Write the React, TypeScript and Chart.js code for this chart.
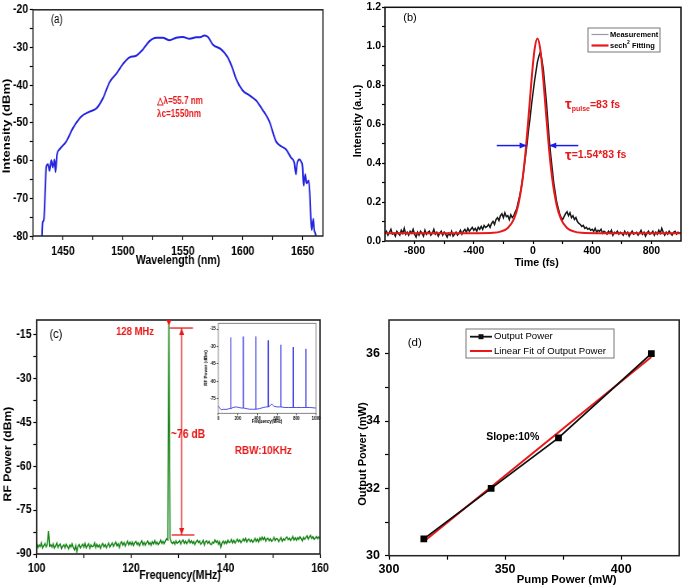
import React, { useEffect, useRef } from "react";
import { Chart, registerables } from "chart.js";
Chart.register(...registerables);

const FONT = "'Liberation Sans', Arial, Helvetica, sans-serif";

// ---------------- (a) optical spectrum ----------------
const specWavelength = [1432.3, 1432.5, 1433.2, 1434, 1435.3, 1436, 1437.5, 1438.8, 1440.3, 1441.5, 1443, 1443.8, 1445, 1447.2, 1452.8, 1458.3, 1465.3, 1472.2, 1477.8, 1483.3, 1488.9, 1494.4, 1500, 1505.6, 1511, 1516.7, 1522.2, 1527.8, 1533.3, 1538.9, 1544.4, 1550, 1555.6, 1561, 1565.3, 1568, 1571, 1575, 1582, 1587.5, 1591.7, 1594.4, 1600, 1605.6, 1611, 1616.7, 1622.2, 1627.8, 1632, 1636, 1640.3, 1643, 1644.4, 1645.3, 1647.2, 1648.6, 1650, 1650.8, 1652.2, 1653.3, 1655, 1656, 1657.5, 1658.9, 1659.7, 1661, 1661.5];
const specIntensity = [-83, -80, -76.2, -75.8, -67, -61.8, -61, -62.7, -59.9, -61.8, -59.7, -63, -58.4, -57, -54.9, -51.4, -48.3, -47, -46.2, -43.5, -39.2, -37, -34.4, -32.6, -32.2, -30.5, -28.3, -27.4, -27.4, -28.1, -27.4, -27.2, -27.7, -27.3, -27.2, -26.8, -27.2, -29.2, -30.5, -32.6, -35.7, -38.3, -41.4, -42.7, -44, -46.6, -49.6, -54.9, -56.2, -57, -59.2, -60.5, -63.6, -61, -59.7, -60.2, -61.8, -66.6, -63.6, -66, -65.3, -68.8, -78.4, -75.4, -78.4, -80, -83];
const aXMajor = [1450, 1500, 1550, 1600, 1650];
const aXMinor = [1425, 1475, 1525, 1575, 1625];
const aYMajor = [-80, -70, -60, -50, -40, -30, -20];
const aYMinor = [-75, -65, -55, -45, -35, -25];

// ---------------- (b) autocorrelation ----------------
const timeStart = -1000;
const timeStep = 10;
const measIntensity = [
  0.04, 0.05, 0.03, 0.045, 0.06, 0.035, 0.04, 0.025, 0.05, 0.04,
  0.03, 0.055, 0.04, 0.065, 0.035, 0.045, 0.03, 0.05, 0.04, 0.06,
  0.035, 0.02, 0.045, 0.03, 0.05, 0.04, 0.025, 0.055, 0.035, 0.045,
  0.05, 0.03, 0.04, 0.06, 0.035, 0.045, 0.025, 0.04, 0.05, 0.03,
  0.045, 0.035, 0.02, 0.04, 0.03, 0.05, 0.025, 0.035, 0.045, 0.03,
  0.04, 0.055, 0.035, 0.05, 0.06, 0.045, 0.065, 0.05, 0.06, 0.07,
  0.055, 0.065, 0.05, 0.07, 0.06, 0.075, 0.06, 0.08, 0.07, 0.075,
  0.085, 0.07, 0.09, 0.1, 0.085, 0.11, 0.12, 0.105, 0.13, 0.14,
  0.12, 0.145, 0.125, 0.13, 0.11, 0.135, 0.12, 0.13, 0.15, 0.165,
  0.2, 0.23, 0.27, 0.32, 0.38, 0.44, 0.5, 0.57, 0.63, 0.7,
  0.76, 0.82, 0.87, 0.92, 0.95, 0.97, 0.93, 0.88, 0.8, 0.72,
  0.62, 0.52, 0.44, 0.37, 0.3, 0.25, 0.2, 0.17, 0.14, 0.12,
  0.11, 0.125, 0.14, 0.15, 0.13, 0.145, 0.12, 0.13, 0.11, 0.12,
  0.1, 0.09, 0.085, 0.075, 0.08, 0.065, 0.07, 0.06, 0.065, 0.055,
  0.06, 0.05, 0.065, 0.045, 0.055, 0.05, 0.06, 0.04, 0.05, 0.045,
  0.035, 0.05, 0.04, 0.055, 0.03, 0.045, 0.04, 0.05, 0.035, 0.045,
  0.04, 0.03, 0.05, 0.035, 0.045, 0.025, 0.04, 0.05, 0.035, 0.04,
  0.045, 0.03, 0.04, 0.055, 0.035, 0.045, 0.025, 0.04, 0.05, 0.035,
  0.04, 0.05, 0.03, 0.045, 0.035, 0.055, 0.04, 0.065, 0.045, 0.03,
  0.045, 0.035, 0.05, 0.04, 0.03, 0.045, 0.05, 0.035, 0.045, 0.04,
  0.04,
];
const fitTime = [-1000, -600, -370, -270, -220, -170, -130, -100, -70, -50, -30, -10, 10, 30, 50, 70, 90, 110, 130, 160, 190, 230, 280, 330, 430, 700, 1000];
const fitIntensity = [0.04, 0.04, 0.04, 0.042, 0.048, 0.067, 0.111, 0.184, 0.32, 0.46, 0.637, 0.826, 0.98, 1.04, 0.98, 0.826, 0.637, 0.46, 0.32, 0.184, 0.111, 0.067, 0.048, 0.042, 0.04, 0.04, 0.04];
const bXMajor = [-800, -400, 0, 400, 800];
const bXMinor = [-600, -200, 200, 600];
const bYMajor = [0, 0.2, 0.4, 0.6, 0.8, 1.0, 1.2];
const bYMinor = [0.1, 0.3, 0.5, 0.7, 0.9, 1.1];

// ---------------- (c) RF spectrum ----------------
const rfStart = 100;
const rfStep = 0.25;
const rfPower = [
  -86.5, -87.8, -86.9, -87.5,
  -86.2, -87.9, -87.1, -86.4,
  -87.6, -86.8, -82.2, -87.3,
  -86.9, -87.7, -86.5, -88.0,
  -87.2, -86.3, -87.8, -87.0,
  -86.6, -88.1, -87.3, -86.8,
  -87.9, -86.7, -87.4, -88.2,
  -86.9, -87.6, -86.5, -87.8,
  -88.6, -87.1, -89.3, -87.4,
  -86.8, -87.9, -87.2, -86.6,
  -87.7, -86.4, -87.9, -87.1,
  -86.5, -88.0, -86.9, -87.5,
  -87.3, -86.2, -87.8, -86.7,
  -87.6, -86.9, -88.1, -87.0,
  -86.4, -87.5, -86.8, -87.9,
  -87.1, -86.3, -87.6, -86.9,
  -86.2, -87.4, -86.6, -85.9,
  -87.2, -86.5, -87.8, -86.3,
  -85.8, -86.9, -86.1, -87.3,
  -86.4, -85.6, -86.8, -86.0,
  -86.9, -85.9, -87.1, -86.2,
  -85.7, -86.8, -86.1, -87.2,
  -86.3, -85.5, -86.9, -86.0,
  -87.0, -86.2, -85.6, -86.7,
  -86.1, -87.0, -85.8, -86.5,
  -85.4, -86.6, -85.9, -86.8,
  -86.2, -85.3, -86.4, -85.7,
  -86.5, -85.6, -84.8, -85.2,
  -8.0, -84.6, -85.9, -86.4,
  -85.8, -86.7, -85.5, -86.3,
  -86.0, -85.4, -86.6, -85.7,
  -85.2, -86.3, -85.6, -86.5,
  -85.9, -85.1, -86.2, -85.5,
  -86.4, -85.7, -86.8, -85.9,
  -85.3, -86.1, -85.6, -86.7,
  -86.2, -85.4, -86.9, -85.8,
  -85.5, -86.4, -85.7, -86.6,
  -86.8, -85.9, -86.3, -85.2,
  -86.0, -85.5, -86.7, -85.8,
  -87.6, -86.2, -85.6, -86.5,
  -85.7, -86.4, -85.3, -86.1,
  -85.9, -85.0, -86.2, -85.4,
  -86.3, -85.6, -84.9, -85.8,
  -85.2, -86.1, -85.5, -84.8,
  -85.6, -84.7, -85.9, -85.1,
  -84.9, -85.8, -85.2, -86.0,
  -85.4, -84.6, -85.7, -84.9,
  -85.8, -84.5, -85.3, -84.2,
  -85.1, -84.4, -85.6, -84.8,
  -84.6, -85.5, -84.9, -85.7,
  -85.2, -84.3, -85.4, -84.7,
  -84.9, -85.8, -85.1, -84.4,
  -85.6, -84.8, -85.3, -84.5,
  -84.2, -85.1, -84.6, -85.4,
  -84.8, -84.0, -85.2, -84.5,
  -85.3, -84.4, -85.0, -84.1,
  -84.7, -85.5, -84.3, -85.0,
  -84.4, -83.8, -84.9, -84.2,
  -83.6, -84.7, -84.1, -85.0,
  -84.5, -84.0, -84.8, -84.2,
  -84.6,
];
const cXMajor = [100, 120, 140, 160];
const cXMinor = [110, 130, 150];
const cYMajor = [-90, -75, -60, -45, -30, -15];
const cYMinor = [-82.5, -67.5, -52.5, -37.5, -22.5];
// inset: wide-span RF spectrum
const insetFreq = [0, 15, 30, 50, 80, 110, 126, 128, 130, 150, 180, 210, 240, 254, 256, 258, 290, 320, 350, 382, 384, 386, 420, 460, 490, 510, 512, 514, 530, 545, 555, 570, 600, 638, 640, 642, 680, 720, 766, 768, 770, 800, 850, 894, 896, 898, 940, 1000];
const insetPower = [-81, -83, -84.5, -84, -84.2, -83.5, -83.5, -22.2, -83.5, -82.5, -82, -82.5, -83, -83, -21.4, -83, -83.5, -84, -84, -84, -21.4, -84, -83.5, -82.5, -82, -82, -24.8, -82, -81, -79.5, -80, -81.5, -82, -82, -28.5, -82, -82.5, -82.5, -82.5, -30.5, -82.5, -82.5, -82.5, -82.5, -32, -82.5, -82.5, -83];
const insetXMajor = [0, 200, 400, 600, 800, 1000];
const insetYMajor = [-75, -60, -45, -30, -15];

// ---------------- (d) output power ----------------
const pumpPower = [315, 344, 373, 413];
const outputPower = [30.5, 32.0, 33.5, 36.0];
const fitPump = [315, 413];
const fitOutput = [30.42, 35.9];
const dXMajor = [300, 350, 400];
const dXMinor = [325, 375];
const dYMajor = [30, 32, 34, 36];
const dYMinor = [31, 33, 35];

// ---------------- helpers ----------------
const RED = "#e8191b";
const f = (size: number, bold = true) => `${bold ? "bold " : ""}${size}px ${FONT}`;

type Geo = { left: number; top: number; sx: number; yW: number; xH: number; padTop: number; padRight: number };
type Run = { t: string; font: string; color?: string; dy?: number };
type TextSpec = { x: number; y: number; runs: Run[]; align?: "left" | "center"; rot?: boolean };
type SegSpec = { p: [number, number, number, number]; color: string; width: number; heads?: [boolean, boolean] };
type LegendSpec = {
  box: [number, number, number, number];
  items: { y: number; x1: number; x2: number; color: string; width: number; marker?: boolean; tx: number; runs: Run[] }[];
};
type DecorSpec = { frame?: { color: string; width: number }; texts?: TextSpec[]; segs?: SegSpec[]; tris?: { x: number; y: number; color: string }[]; legend?: LegendSpec };

function drawRuns(ctx: CanvasRenderingContext2D, runs: Run[], x: number, y: number, align: string) {
  let total = 0;
  for (const r of runs) {
    ctx.font = r.font;
    total += ctx.measureText(r.t).width;
  }
  let cx = align === "center" ? x - total / 2 : x;
  ctx.textBaseline = "middle";
  ctx.textAlign = "left";
  for (const r of runs) {
    ctx.font = r.font;
    ctx.fillStyle = r.color || "#000";
    ctx.fillText(r.t, cx, y + (r.dy || 0));
    cx += ctx.measureText(r.t).width;
  }
}

function drawArrowLine(ctx: CanvasRenderingContext2D, x1: number, y1: number, x2: number, y2: number, color: string, width: number, heads: [boolean, boolean]) {
  ctx.save();
  ctx.strokeStyle = color;
  ctx.fillStyle = color;
  ctx.lineWidth = width;
  ctx.beginPath();
  ctx.moveTo(x1, y1);
  ctx.lineTo(x2, y2);
  ctx.stroke();
  const hl = 7, hw = 3;
  const head = (x: number, y: number, a: number) => {
    ctx.beginPath();
    ctx.moveTo(x, y);
    ctx.lineTo(x - hl * Math.cos(a) + hw * Math.sin(a), y - hl * Math.sin(a) - hw * Math.cos(a));
    ctx.lineTo(x - hl * Math.cos(a) - hw * Math.sin(a), y - hl * Math.sin(a) + hw * Math.cos(a));
    ctx.closePath();
    ctx.fill();
  };
  const ang = Math.atan2(y2 - y1, x2 - x1);
  if (heads[1]) head(x2, y2, ang);
  if (heads[0]) head(x1, y1, ang + Math.PI);
  ctx.restore();
}

function decorPlugin(geo: Geo, spec: DecorSpec) {
  const X = (px: number) => (px - geo.left) / geo.sx;
  const Y = (py: number) => py - geo.top;
  return {
    id: "decor",
    afterDraw(chart: any) {
      const ctx: CanvasRenderingContext2D = chart.ctx;
      const a = chart.chartArea;
      const xs = chart.scales.x;
      const ys = chart.scales.y;
      ctx.save();
      if (spec.frame) {
        ctx.strokeStyle = spec.frame.color;
        ctx.lineWidth = spec.frame.width;
        ctx.strokeRect(a.left, a.top, a.right - a.left, a.bottom - a.top);
      }
      for (const s of spec.segs || []) {
        drawArrowLine(ctx, xs.getPixelForValue(s.p[0]), ys.getPixelForValue(s.p[1]), xs.getPixelForValue(s.p[2]), ys.getPixelForValue(s.p[3]), s.color, s.width, s.heads || [false, false]);
      }
      for (const t of spec.tris || []) {
        const px = xs.getPixelForValue(t.x);
        const py = ys.getPixelForValue(t.y);
        ctx.fillStyle = t.color;
        ctx.beginPath();
        ctx.moveTo(px - 3, py);
        ctx.lineTo(px + 3, py);
        ctx.lineTo(px, py + 6);
        ctx.closePath();
        ctx.fill();
      }
      for (const t of spec.texts || []) {
        if (t.rot) {
          ctx.save();
          ctx.translate(X(t.x), Y(t.y));
          ctx.rotate(-Math.PI / 2);
          drawRuns(ctx, t.runs, 0, 0, "center");
          ctx.restore();
        } else {
          drawRuns(ctx, t.runs, X(t.x), Y(t.y), t.align || "left");
        }
      }
      if (spec.legend) {
        const L = spec.legend;
        ctx.fillStyle = "#fff";
        ctx.fillRect(X(L.box[0]), Y(L.box[1]), L.box[2] / geo.sx, L.box[3]);
        ctx.strokeStyle = "#777";
        ctx.lineWidth = 1;
        ctx.strokeRect(X(L.box[0]), Y(L.box[1]), L.box[2] / geo.sx, L.box[3]);
        for (const it of L.items) {
          ctx.strokeStyle = it.color;
          ctx.lineWidth = it.width;
          ctx.beginPath();
          ctx.moveTo(X(it.x1), Y(it.y));
          ctx.lineTo(X(it.x2), Y(it.y));
          ctx.stroke();
          if (it.marker) {
            ctx.fillStyle = it.color;
            const mx = X((it.x1 + it.x2) / 2);
            ctx.fillRect(mx - 2.5, Y(it.y) - 2.5, 5, 5);
          }
          drawRuns(ctx, it.runs, X(it.tx), Y(it.y), "left");
        }
      }
      ctx.restore();
    },
  };
}

function axis(min: number, max: number, major: number[], minor: number[], o: { size: number; fmt: (v: number) => string; w?: number; h?: number; tick: number; pad: number; tw?: number }) {
  const all = [...major, ...minor].sort((p, q) => p - q);
  return {
    type: "linear",
    min,
    max,
    afterBuildTicks: (s: any) => {
      s.ticks = all.map((v) => ({ value: v }));
    },
    afterFit: (s: any) => {
      if (o.w != null) s.width = o.w;
      if (o.h != null) s.height = o.h;
    },
    grid: { display: true, drawOnChartArea: false, drawTicks: true, tickLength: o.tick, tickColor: "#000", tickWidth: o.tw || 1.2 },
    border: { display: false },
    title: { display: false },
    ticks: {
      autoSkip: false,
      maxRotation: 0,
      minRotation: 0,
      padding: o.pad,
      color: "#000",
      font: { family: FONT, size: o.size, weight: "bold" },
      callback: (v: number) => (major.some((m) => Math.abs(m - v) < 1e-9) ? o.fmt(v) : ""),
    },
  };
}

function baseOptions(geo: Geo, x: any, y: any) {
  return {
    responsive: false,
    animation: false,
    devicePixelRatio: 1,
    events: [],
    layout: { padding: { left: 0, top: geo.padTop, right: geo.padRight, bottom: 0 } },
    plugins: { legend: { display: false }, tooltip: { enabled: false } },
    scales: { x, y },
  };
}

// ---------------- chart builders ----------------
function buildA(geo: Geo) {
  const x = axis(1425, 1667, aXMajor, aXMinor, { size: 13, fmt: String, h: geo.xH, tick: 4, pad: 3.5 });
  const y = axis(-80, -20, aYMajor, aYMinor, { size: 13, fmt: String, w: geo.yW, tick: 4, pad: 2 });
  return {
    type: "line",
    data: {
      datasets: [
        {
          data: specWavelength.map((v, i) => ({ x: v, y: specIntensity[i] })),
          borderColor: "#2424e0",
          borderWidth: 2,
          pointRadius: 0,
          cubicInterpolationMode: "monotone",
        },
      ],
    },
    options: baseOptions(geo, x, y),
    plugins: [
      decorPlugin(geo, {
        frame: { color: "#222", width: 1.5 },
        texts: [
          { x: 7, y: 126, rot: true, runs: [{ t: "Intensity (dBm)", font: f(13) }] },
          { x: 178, y: 260, align: "center", runs: [{ t: "Wavelength (nm)", font: f(13) }] },
          { x: 56.7, y: 20, align: "center", runs: [{ t: "(a)", font: f(12, false) }] },
          { x: 157, y: 101, runs: [{ t: "△λ=55.7 nm", font: f(10), color: RED }] },
          { x: 157, y: 114, runs: [{ t: "λc=1550nm", font: f(10), color: RED }] },
        ],
      }),
    ],
  };
}

function buildB(geo: Geo) {
  const x = axis(-1000, 1000, bXMajor, bXMinor, { size: 10.5, fmt: String, h: geo.xH, tick: 3, pad: 1 });
  const y = axis(0, 1.2, bYMajor, bYMinor, { size: 10.5, fmt: (v) => v.toFixed(1), w: geo.yW, tick: 3, pad: 1 });
  return {
    type: "line",
    data: {
      datasets: [
        {
          data: measIntensity.map((v, i) => ({ x: timeStart + i * timeStep, y: v })),
          borderColor: "#1a1a1a",
          borderWidth: 1.5,
          pointRadius: 0,
          order: 2,
        },
        {
          data: fitTime.map((v, i) => ({ x: v, y: fitIntensity[i] })),
          borderColor: RED,
          borderWidth: 2,
          pointRadius: 0,
          cubicInterpolationMode: "monotone",
          order: 1,
        },
      ],
    },
    options: baseOptions(geo, x, y),
    plugins: [
      decorPlugin(geo, {
        frame: { color: "#111", width: 1.5 },
        segs: [
          { p: [-245, 0.49, -43, 0.49], color: "#1c1ce8", width: 1.5, heads: [false, true] },
          { p: [306, 0.49, 110, 0.49], color: "#1c1ce8", width: 1.5, heads: [false, true] },
        ],
        texts: [
          { x: 358, y: 121, rot: true, runs: [{ t: "Intensity (a.u.)", font: f(10.7) }] },
          { x: 536.7, y: 263, align: "center", runs: [{ t: "Time (fs)", font: f(10.7) }] },
          { x: 410, y: 18, align: "center", runs: [{ t: "(b)", font: f(11, false) }] },
          {
            x: 565,
            y: 105,
            runs: [
              { t: "τ", font: f(15), color: RED },
              { t: "pulse", font: f(7), color: RED, dy: 4 },
              { t: "=83 fs", font: f(10.5), color: RED },
            ],
          },
          {
            x: 565,
            y: 155.5,
            runs: [
              { t: "τ", font: f(15), color: RED },
              { t: "=1.54*83 fs", font: f(10.5), color: RED },
            ],
          },
        ],
        legend: {
          box: [588, 28, 72, 24],
          items: [
            { y: 34.5, x1: 591.5, x2: 608.5, color: "#9a9a9a", width: 1.2, tx: 610, runs: [{ t: "Measurement", font: f(7.5) }] },
            {
              y: 45.5,
              x1: 591.5,
              x2: 608.5,
              color: RED,
              width: 2.2,
              tx: 610,
              runs: [
                { t: "sech", font: f(7.5) },
                { t: "2", font: f(5), dy: -3 },
                { t: " Fitting", font: f(7.5) },
              ],
            },
          ],
        },
      }),
    ],
  };
}

function buildC(geo: Geo) {
  const x = axis(100, 160, cXMajor, cXMinor, { size: 12.2, fmt: String, h: geo.xH, tick: 4, pad: 3.5 });
  const y = axis(-90, -10, cYMajor, cYMinor, { size: 12.2, fmt: String, w: geo.yW, tick: 4, pad: 2 });
  return {
    type: "line",
    data: {
      datasets: [
        {
          data: rfPower.map((v, i) => ({ x: rfStart + i * rfStep, y: v })),
          borderColor: "#148414",
          borderWidth: 1.4,
          pointRadius: 0,
        },
      ],
    },
    options: baseOptions(geo, x, y),
    plugins: [
      decorPlugin(geo, {
        frame: { color: "#222", width: 1.6 },
        segs: [
          { p: [130.7, -12.75, 130.7, -83.5], color: RED, width: 1.3, heads: [true, true] },
          { p: [128.2, -12.75, 133.1, -12.75], color: RED, width: 1.3 },
          { p: [128.6, -83.5, 133.4, -83.5], color: RED, width: 1.3 },
        ],
        tris: [{ x: 128, y: -10, color: RED }],
        texts: [
          { x: 8, y: 454, rot: true, runs: [{ t: "RF Power (dBm)", font: f(12.2) }] },
          { x: 180, y: 576, align: "center", runs: [{ t: "Frequency(MHz)", font: f(12.2) }] },
          { x: 56, y: 334, align: "center", runs: [{ t: "(c)", font: f(13, false) }] },
          { x: 135, y: 332, align: "center", runs: [{ t: "128 MHz", font: f(11), color: RED }] },
          { x: 188, y: 435, align: "center", runs: [{ t: "~76 dB", font: f(12), color: RED }] },
          { x: 263.3, y: 450.7, align: "center", runs: [{ t: "RBW:10KHz", font: f(11.5), color: RED }] },
        ],
      }),
    ],
  };
}

function buildInset(geo: Geo) {
  const x = axis(0, 1000, insetXMajor, [], { size: 4.6, fmt: String, h: geo.xH, tick: 2, pad: 1, tw: 0.7 });
  const y = axis(-87.5, -10, insetYMajor, [], { size: 4.6, fmt: String, w: geo.yW, tick: 2, pad: 1, tw: 0.7 });
  return {
    type: "line",
    data: {
      datasets: [
        {
          data: insetFreq.map((v, i) => ({ x: v, y: insetPower[i] })),
          borderColor: "#3b3be2",
          borderWidth: 0.9,
          pointRadius: 0,
        },
      ],
    },
    options: baseOptions(geo, x, y),
    plugins: [
      decorPlugin(geo, {
        frame: { color: "#666", width: 0.8 },
        texts: [
          { x: 206, y: 368, rot: true, runs: [{ t: "RF Power (dBm)", font: f(4.6) }] },
          { x: 267, y: 421.5, align: "center", runs: [{ t: "Frequency(MHz)", font: f(4.6) }] },
        ],
      }),
    ],
  };
}

function buildD(geo: Geo) {
  const x = axis(300, 425, dXMajor, dXMinor, { size: 12.5, fmt: String, h: geo.xH, tick: 4, pad: 2 });
  const y = axis(30, 37, dYMajor, dYMinor, { size: 12.5, fmt: String, w: geo.yW, tick: 4, pad: 5 });
  return {
    type: "line",
    data: {
      datasets: [
        {
          data: fitPump.map((v, i) => ({ x: v, y: fitOutput[i] })),
          borderColor: RED,
          borderWidth: 2,
          pointRadius: 0,
          order: 2,
        },
        {
          data: pumpPower.map((v, i) => ({ x: v, y: outputPower[i] })),
          borderColor: "#111",
          borderWidth: 1.8,
          pointStyle: "rect",
          pointRadius: 3.5,
          pointBackgroundColor: "#000",
          pointBorderColor: "#000",
          order: 1,
        },
      ],
    },
    options: baseOptions(geo, x, y),
    plugins: [
      decorPlugin(geo, {
        frame: { color: "#222", width: 1.5 },
        texts: [
          { x: 363, y: 454, rot: true, runs: [{ t: "Output Power (mW)", font: f(11.1) }] },
          { x: 566.7, y: 580, align: "center", runs: [{ t: "Pump Power (mW)", font: f(11.3) }] },
          { x: 414.7, y: 343, align: "center", runs: [{ t: "(d)", font: f(11.5, false) }] },
          { x: 512.7, y: 436.7, align: "center", runs: [{ t: "Slope:10%", font: f(10.5) }] },
        ],
        legend: {
          box: [466, 329, 148, 29],
          items: [
            { y: 336.7, x1: 470, x2: 492, color: "#111", width: 1.8, marker: true, tx: 494, runs: [{ t: "Output Power", font: f(9.6, false) }] },
            { y: 351, x1: 470, x2: 492, color: RED, width: 2, tx: 494, runs: [{ t: "Linear Fit of Output Power", font: f(9.6, false) }] },
          ],
        },
      }),
    ],
  };
}

// ---------------- panel component ----------------
type PanelProps = {
  rect: [number, number, number, number];
  area: [number, number, number, number];
  sx: number;
  build: (g: Geo) => any;
};

function Panel({ rect, area, sx, build }: PanelProps) {
  const ref = useRef<HTMLCanvasElement>(null);
  const [l, t, w, h] = rect;
  const cw = Math.round(w / sx);
  useEffect(() => {
    const geo: Geo = {
      left: l,
      top: t,
      sx,
      yW: (area[0] - l) / sx,
      padRight: cw - (area[2] - l) / sx,
      padTop: area[1] - t,
      xH: t + h - area[3],
    };
    const chart = new Chart(ref.current as HTMLCanvasElement, build(geo));
    return () => chart.destroy();
  }, []);
  return (
    <div
      style={{
        position: "absolute",
        left: l,
        top: t,
        width: cw,
        height: h,
        transform: `scaleX(${sx})`,
        transformOrigin: "0 0",
      }}
    >
      <canvas ref={ref} width={cw} height={h} style={{ display: "block", width: cw, height: h }} />
    </div>
  );
}

export default function App() {
  return (
    <div style={{ position: "absolute", left: 0, top: 0, width: 685, height: 588, background: "#fff", overflow: "hidden" }}>
      <Panel rect={[0, 0, 340, 290]} area={[33, 7, 323, 236]} sx={0.81} build={buildA} />
      <Panel rect={[340, 0, 345, 290]} area={[385, 6, 681, 241]} sx={1} build={buildB} />
      <Panel rect={[0, 290, 340, 298]} area={[36.7, 320, 320, 554]} sx={0.86} build={buildC} />
      <Panel rect={[190, 316, 135, 120]} area={[218.3, 323.3, 316, 413.3]} sx={0.86} build={buildInset} />
      <Panel rect={[340, 290, 345, 298]} area={[389, 320, 683, 555.7]} sx={1} build={buildD} />
    </div>
  );
}
